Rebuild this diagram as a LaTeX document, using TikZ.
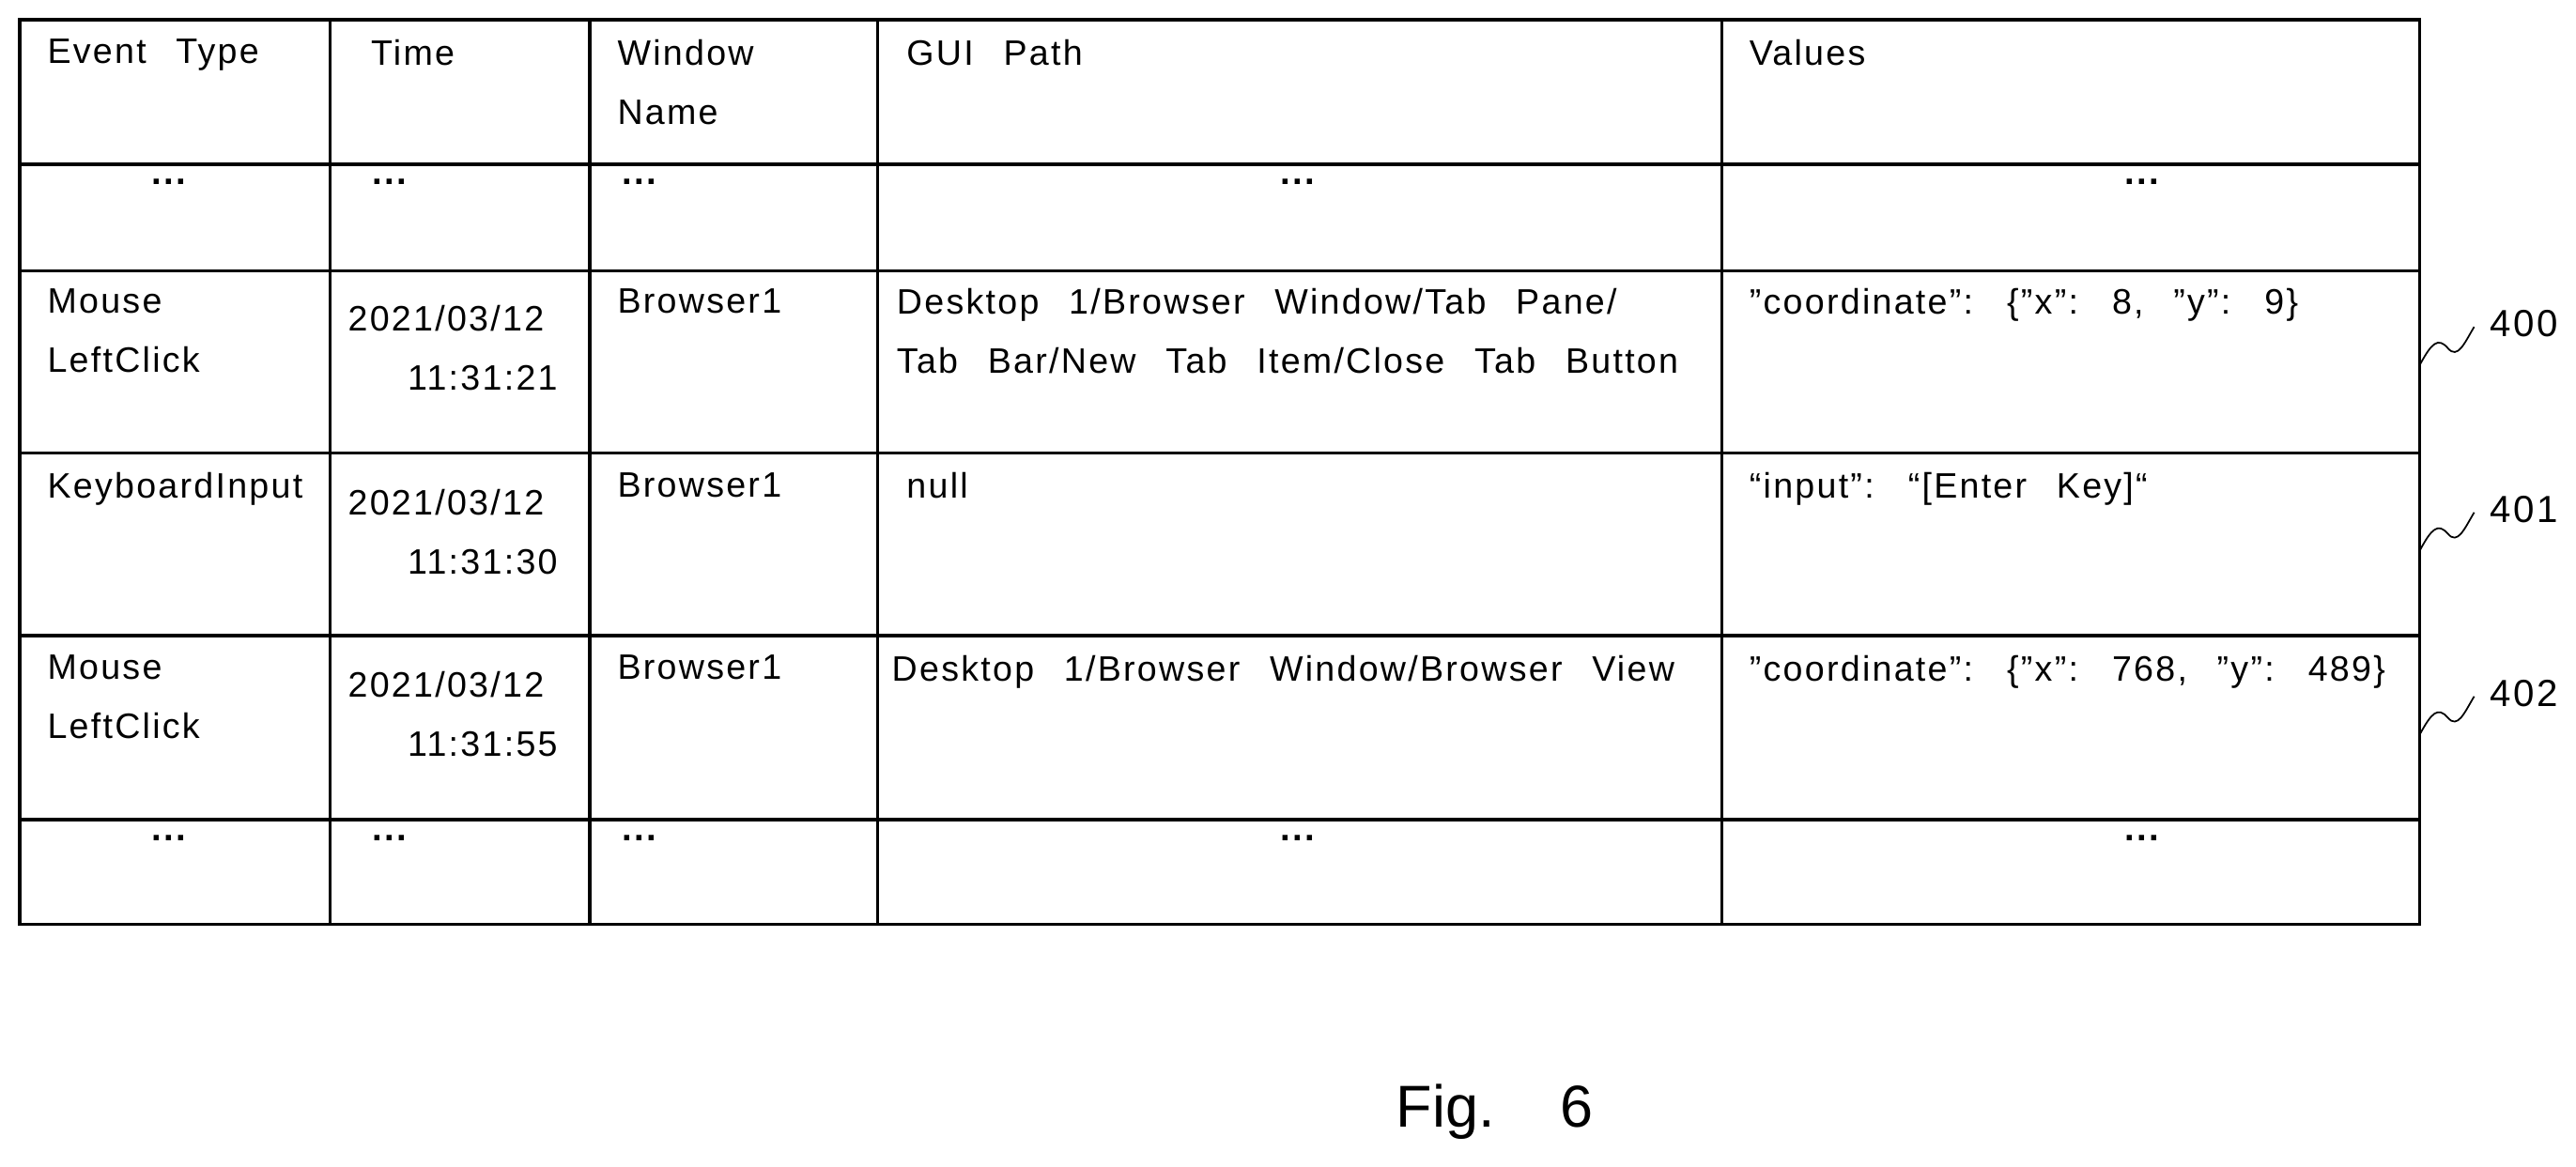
\documentclass[tikz,border=0pt]{standalone}
\usepackage{fontspec}
\setmainfont{Liberation Sans}[LetterSpace=6,WordSpace=2.5]
\newfontfamily\figfont{Liberation Sans}[WordSpace=2]
\begin{document}
\begin{tikzpicture}[x=1pt,y=-1pt,line width=1.8pt,
  cell/.style={anchor=north west,inner sep=0pt,align=left,font=\fontsize{21.5}{36}\selectfont},
  dots/.style={anchor=north,inner sep=0pt,font=\fontsize{22}{24}\selectfont\bfseries},
  lbl/.style={anchor=west,inner sep=0pt,font=\fontsize{23}{26}\selectfont},
  fig/.style={inner sep=0pt,font=\figfont\fontsize{36}{40}\selectfont}]
\useasboundingbox (0,0) rectangle (1568,710);
\draw (12,12) rectangle (1473,563);
\foreach \y in {100,165,276,387,499} \draw (12,\y) -- (1473,\y);
\foreach \x in {201,359,534,1048} \draw (\x,12) -- (\x,563);
% header
\node[cell] (h1) at (28,23) {Event Type};
\node[cell] (h2) at (225,23) {Time};
\node[cell] (h3) at (375,23) {Window\\Name};
\node[cell] (h4) at (551,23) {GUI Path};
\node[cell] (h5) at (1064,23) {Values};
% dots row 1
\node[dots] (d1) at (103,108) {...};
\node[dots] (d2) at (237,108) {...};
\node[dots] (d3) at (389,108) {...};
\node[dots] (d4) at (790,108) {...};
\node[dots] (d5) at (1304,108) {...};
% row 400
\node[cell] (a1) at (28,175) {Mouse\\LeftClick};
\node[cell] (a2) at (211,185) {2021/03/12\\\ \ 11:31:21};
\node[cell] (a3) at (375,175) {Browser1};
\node[cell] (a4) at (545,175) {Desktop 1/Browser Window/Tab Pane/\\Tab Bar/New Tab Item/Close Tab Button};
\node[cell] (a5) at (1064,175) {"coordinate": \{"x": 8, "y": 9\}};
% row 401
\node[cell] (b1) at (28,287) {KeyboardInput};
\node[cell] (b2) at (211,297) {2021/03/12\\\ \ 11:31:30};
\node[cell] (b3) at (375,287) {Browser1};
\node[cell] (b4) at (551,287) {null};
\node[cell] (b5) at (1064,287) {“input”: “[Enter Key]“};
% row 402
\node[cell] (c1) at (28,398) {Mouse\\LeftClick};
\node[cell] (c2) at (211,408) {2021/03/12\\\ \ 11:31:55};
\node[cell] (c3) at (375,398) {Browser1};
\node[cell] (c4) at (542,398) {Desktop 1/Browser Window/Browser View};
\node[cell] (c5) at (1064,398) {"coordinate": \{"x": 768, "y": 489\}};
% dots last
\node[dots] (e1) at (103,508) {...};
\node[dots] (e2) at (237,508) {...};
\node[dots] (e3) at (389,508) {...};
\node[dots] (e4) at (790,508) {...};
\node[dots] (e5) at (1304,508) {...};
% labels
\foreach \n/\y in {400/197,401/310,402/422}{
  \node[lbl] (l\n) at (1515,\y) {\n};
  \draw[line width=1pt] (1473,\y+25) .. controls (1480,\y+12) and (1484,\y+8) .. (1490,\y+15)
     .. controls (1496,\y+22) and (1500,\y+12) .. (1506,\y+2);
}
\node[fig] (fig) at (910,677) {Fig.\ \ 6};
\end{tikzpicture}
\end{document}
